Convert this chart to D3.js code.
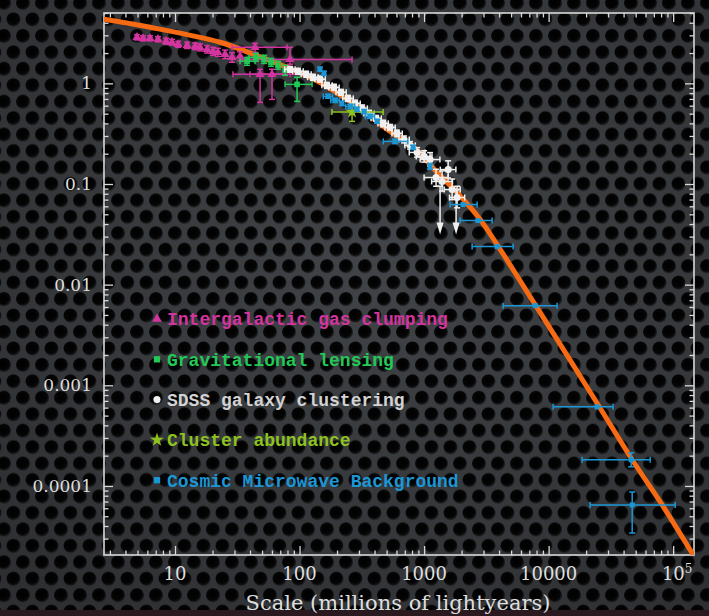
<!DOCTYPE html>
<html>
<head>
<meta charset="utf-8">
<script src="https://cdn.jsdelivr.net/npm/d3@7/dist/d3.min.js"></script>
<style>
  html, body { margin: 0; padding: 0; background: #1e2023; }
  svg { display: block; }
</style>
</head>
<body>
<svg id="chart" width="709" height="616"></svg>
<script>
// ---- axis ticks ----
const xTickValues = [10, 100, 1000, 10000, 100000];
const xTickLabels = ["10", "100", "1000", "10000", "10^5"];
const yTickValues = [1, 0.1, 0.01, 0.001, 0.0001];
const yTickLabels = ["1", "0.1", "0.01", "0.001", "0.0001"];
const xTitle = "Scale (millions of lightyears)";

// ---- model curve (scale, amplitude) ----
const curveX = [2.69, 6.30, 22.96, 42.4, 79.4, 146, 290, 533, 817, 1271, 1841, 2818, 3855, 7798, 22750, 46880, 81660, 144900];
const curveY = [4.34, 3.61, 2.56, 1.95, 1.44, 1.02, 0.590, 0.333, 0.236, 0.130, 0.0822, 0.0444, 0.0250, 0.00632, 0.000769, 0.000182, 6.47e-5, 2.06e-5];

// ---- measurements: [x, y, xlo, xhi, ylo, yhi] ----
const gasClumping = [
  [4.95, 2.87, null, null, 2.70, 3.05],
  [5.53, 2.80, null, null, 2.64, 2.97],
  [6.30, 2.80, null, null, 2.64, 2.97],
  [7.30, 2.74, null, null, 2.58, 2.91],
  [8.47, 2.62, null, null, 2.45, 2.80],
  [9.46, 2.56, null, null, 2.40, 2.74],
  [10.6, 2.44, null, null, 2.28, 2.62],
  [12.5, 2.39, null, null, 2.22, 2.56],
  [14.5, 2.33, null, null, 2.16, 2.52],
  [15.9, 2.28, null, null, 2.10, 2.46],
  [18.1, 2.18, null, null, 2.00, 2.37],
  [20.2, 2.08, null, null, 1.90, 2.28],
  [22.1, 2.03, null, null, 1.85, 2.23],
  [25.2, 1.94, null, null, 1.76, 2.14],
  [28.7, 1.81, null, null, 1.62, 2.02],
  [33.3, 1.86, null, null, 1.68, 2.06],
  [43.9, 2.28, 28.7, 79.4, 2.03, 2.50],
  [83.9, 1.73, 33.3, 264, 1.55, 2.28],
  [48.2, 1.23, 29.2, 83.9, 0.647, 1.38],
  [60.1, 1.23, 40.0, 115, 0.693, 1.38]
];

const lensing = [
  [37.9, 1.66, 33.3, 43.9, 1.51, 1.81],
  [44.7, 1.81, 39.3, 50.9, 1.66, 1.99],
  [51.9, 1.73, null, null, 1.58, 1.90],
  [59.0, 1.62, null, null, 1.48, 1.77],
  [67.2, 1.51, null, null, 1.38, 1.66],
  [76.5, 1.35, null, null, 1.20, 1.51],
  [95.5, 0.977, 76.5, 126, 0.662, 1.15]
];

const sdss = [
  [84, 1.38, 76, 92, 1.29, 1.47],
  [97, 1.32, 88, 107, 1.23, 1.41],
  [113, 1.23, 103, 124, 1.15, 1.32],
  [128, 1.15, 116, 141, 1.07, 1.23],
  [146, 1.10, 133, 161, 1.03, 1.18],
  [166, 0.955, 151, 183, 0.89, 1.02],
  [189, 0.912, 172, 208, 0.85, 0.98],
  [215, 0.814, 196, 237, 0.76, 0.87],
  [245, 0.709, 222, 270, 0.66, 0.76],
  [279, 0.632, 254, 307, 0.59, 0.68],
  [318, 0.564, 289, 350, 0.52, 0.61],
  [362, 0.502, 329, 398, 0.47, 0.54],
  [412, 0.449, 375, 453, 0.42, 0.48],
  [469, 0.400, 426, 516, 0.37, 0.43],
  [533, 0.365, 485, 586, 0.34, 0.39],
  [607, 0.318, 552, 668, 0.295, 0.343],
  [691, 0.277, 628, 760, 0.256, 0.30],
  [772, 0.242, 700, 850, 0.222, 0.264],
  [879, 0.206, 760, 1017, 0.185, 0.23],
  [1000, 0.188, 865, 1157, 0.165, 0.214],
  [1117, 0.175, 930, 1340, 0.15, 0.205],
  [1248, 0.116, 1000, 1560, 0.095, 0.14],
  [1395, 0.106, 1150, 1690, 0.085, 0.135],
  [1560, 0.139, 1350, 1800, 0.115, 0.17],
  [1679, 0.0881, 1450, 1950, 0.07, 0.112],
  [1841, 0.0734, 1600, 2120, 0.058, 0.095]
];
// upper limits: [x, top, arrow tip]
const sdssLimits = [
  [1344, 0.095, 0.0315],
  [1807, 0.088, 0.0315]
];

const clusters = [
  [264, 0.52, 182, 469, 0.419, 0.618]
];

const cmb = [
  [146, 1.38, null, null, 1.32, 1.45],
  [157, 1.26, null, null, 1.20, 1.32],
  [169, 0.742, 155, 184, 0.71, 0.78],
  [193, 0.677, 178, 210, 0.645, 0.71],
  [219, 0.632, null, null, 0.60, 0.665],
  [255, 0.590, 235, 277, 0.56, 0.62],
  [290, 0.551, null, null, 0.525, 0.58],
  [330, 0.526, null, null, 0.50, 0.55],
  [368, 0.470, 338, 400, 0.447, 0.494],
  [419, 0.419, null, null, 0.40, 0.44],
  [585, 0.265, 470, 740, 0.252, 0.279],
  [817, 0.231, null, null, 0.22, 0.243],
  [1117, 0.149, null, null, 0.14, 0.16],
  [2056, 0.0625, 1618, 2666, null, null],
  [2716, 0.0433, 1945, 3516, null, null],
  [3855, 0.0239, 2431, 5188, null, null],
  [7798, 0.00618, 4313, 11700, null, null],
  [24500, 0.000611, 10870, 32960, null, null],
  [46000, 0.000182, 18580, 65370, 0.000155, 0.000213],
  [46880, 6.47e-5, 21530, 103800, 3.41e-5, 8.71e-5]
];

// ---- legend ----
const legendLabels = ["Intergalactic gas clumping", "Gravitational lensing", "SDSS galaxy clustering", "Cluster abundance", "Cosmic Microwave Background"];

// ---------------------------------------------------------------
const W = 709, H = 616;
const M = { left: 104, right: 694, top: 13, bottom: 555 };

const colors = {
  gas: "#d4349f",
  lens: "#22c957",
  sdss: "#f0f0f0",
  sdssText: "#d2d2d2",
  clus: "#8dc21f",
  cmb: "#1c97d6",
  curve: "#f56a12",
  axis: "#d9d9d9",
  text: "#dedede"
};

const svg = d3.select("#chart");
const defs = svg.append("defs");

// perforated-metal backdrop
const pat = defs.append("pattern")
  .attr("id", "holes").attr("patternUnits", "userSpaceOnUse")
  .attr("width", 19).attr("height", 32.9).attr("x", 4).attr("y", 3);
pat.append("rect").attr("width", 19).attr("height", 32.9).attr("fill", "#45484c");
const hg = defs.append("radialGradient").attr("id", "holeGrad")
  .attr("cx", "45%").attr("cy", "42%").attr("r", "55%");
hg.append("stop").attr("offset", "0%").attr("stop-color", "#000");
hg.append("stop").attr("offset", "75%").attr("stop-color", "#060606");
hg.append("stop").attr("offset", "100%").attr("stop-color", "#222427");
[[0, 0], [19, 0], [0, 32.9], [19, 32.9], [9.5, 16.45]].forEach(([cx, cy]) => {
  pat.append("circle").attr("cx", cx).attr("cy", cy).attr("r", 7).attr("fill", "url(#holeGrad)");
});
const vg = defs.append("radialGradient").attr("id", "vignette")
  .attr("cx", "55%").attr("cy", "40%").attr("r", "75%");
vg.append("stop").attr("offset", "0%").attr("stop-color", "#000").attr("stop-opacity", 0.05);
vg.append("stop").attr("offset", "100%").attr("stop-color", "#000").attr("stop-opacity", 0.35);

svg.append("rect").attr("width", W).attr("height", H).attr("fill", "url(#holes)");
svg.append("rect").attr("width", W).attr("height", H).attr("fill", "url(#vignette)");
svg.append("rect").attr("x", 0).attr("y", 610).attr("width", W).attr("height", 6).attr("fill", "#2a1a20");

defs.append("clipPath").attr("id", "plotClip").append("rect")
  .attr("x", M.left).attr("y", M.top)
  .attr("width", M.right - M.left).attr("height", M.bottom - M.top);

// ---- scales ----
const x = d3.scaleLog().domain([2.69, 1.47e5]).range([M.left, M.right]);
const y = d3.scaleLog().domain([2.06e-5, 5.0]).range([M.bottom, M.top]);

const xMinor = x.ticks().filter(v => !xTickValues.includes(v));
const yMinor = y.ticks().filter(v => !yTickValues.some(t => Math.abs(t - v) / t < 1e-6));

function styleAxis(g) {
  g.select(".domain").remove();
  g.selectAll("line").attr("stroke", colors.axis).attr("stroke-width", 1.3);
  g.selectAll("text").remove();
}

// frame
svg.append("rect")
  .attr("x", M.left).attr("y", M.top)
  .attr("width", M.right - M.left).attr("height", M.bottom - M.top)
  .attr("fill", "none").attr("stroke", colors.axis).attr("stroke-width", 1.6);

// inward ticks on all four sides
const axes = svg.append("g");
[
  [d3.axisBottom(x), `translate(0,${M.bottom})`, xTickValues, xMinor],
  [d3.axisTop(x), `translate(0,${M.top})`, xTickValues, xMinor],
  [d3.axisLeft(y), `translate(${M.left},0)`, yTickValues, yMinor],
  [d3.axisRight(y), `translate(${M.right},0)`, yTickValues, yMinor]
].forEach(([ax, tr, major, minor]) => {
  axes.append("g").attr("transform", tr)
    .call(ax.tickValues(major).tickSize(-9)).call(styleAxis);
  axes.append("g").attr("transform", tr)
    .call(ax.tickValues(minor).tickSize(-4.5)).call(styleAxis);
});

// tick labels
const labelFont = "'DejaVu Serif', serif";
const xl = svg.append("g").attr("font-family", labelFont).attr("font-size", 18)
  .attr("fill", colors.text).attr("text-anchor", "middle");
xTickValues.forEach((v, i) => {
  const parts = xTickLabels[i].split("^");
  const t = xl.append("text").attr("x", x(v) + (parts.length > 1 ? 4 : 0)).attr("y", 580);
  t.append("tspan").text(parts[0]);
  if (parts.length > 1) {
    t.append("tspan").attr("font-size", 12).attr("dy", -7).text(parts[1]);
  }
});
const yl = svg.append("g").attr("font-family", labelFont).attr("font-size", 17)
  .attr("fill", colors.text).attr("text-anchor", "end");
yTickValues.forEach((v, i) => {
  yl.append("text").attr("x", 92).attr("y", y(v)).attr("dy", "0.36em").text(yTickLabels[i]);
});

svg.append("text")
  .attr("x", 398).attr("y", 610)
  .attr("font-family", labelFont).attr("font-size", 21)
  .attr("fill", colors.text).attr("text-anchor", "middle")
  .text(xTitle);

// ---- model curve ----
const plot = svg.append("g").attr("clip-path", "url(#plotClip)");
const curvePts = curveX.map((v, i) => [v, curveY[i]]);
plot.append("path")
  .datum(curvePts)
  .attr("fill", "none")
  .attr("stroke", colors.curve)
  .attr("stroke-width", 5)
  .attr("stroke-linecap", "round")
  .attr("d", d3.line().x(d => x(d[0])).y(d => y(d[1])).curve(d3.curveCatmullRom.alpha(0.5)));

// ---- error bars + markers ----
const cap = 3;
function drawSeries(data, color, symbolType, size, sw) {
  const g = plot.append("g").attr("stroke", color).attr("stroke-width", sw || 1.5);
  data.forEach(d => {
    const [vx, vy, xlo, xhi, ylo, yhi] = d;
    const px = x(vx), py = y(vy);
    if (xlo != null) {
      g.append("line").attr("x1", x(xlo)).attr("x2", x(xhi)).attr("y1", py).attr("y2", py);
      [xlo, xhi].forEach(e => g.append("line")
        .attr("x1", x(e)).attr("x2", x(e)).attr("y1", py - cap).attr("y2", py + cap));
    }
    if (ylo != null) {
      g.append("line").attr("x1", px).attr("x2", px).attr("y1", y(ylo)).attr("y2", y(yhi));
      [ylo, yhi].forEach(e => g.append("line")
        .attr("x1", px - cap).attr("x2", px + cap).attr("y1", y(e)).attr("y2", y(e)));
    }
  });
  plot.append("g").selectAll("path").data(data).join("path")
    .attr("transform", d => `translate(${x(d[0])},${y(d[1])})`)
    .attr("d", d3.symbol(symbolType, size))
    .attr("fill", color);
}

drawSeries(gasClumping, colors.gas, d3.symbolTriangle, 36);
drawSeries(lensing, colors.lens, d3.symbolSquare, 32);
drawSeries(sdss, colors.sdss, d3.symbolCircle, 40);

// SDSS upper limits drawn as arrows
const lim = plot.append("g").attr("stroke", colors.sdss).attr("fill", colors.sdss).attr("stroke-width", 1.5);
sdssLimits.forEach(([vx, top, tip]) => {
  const px = x(vx);
  lim.append("line").attr("x1", px).attr("x2", px).attr("y1", y(top)).attr("y2", y(tip) - 8);
  lim.append("line").attr("x1", px - cap).attr("x2", px + cap).attr("y1", y(top)).attr("y2", y(top));
  lim.append("path").attr("stroke", "none")
    .attr("d", `M${px - 3.5},${y(tip) - 12} L${px + 3.5},${y(tip) - 12} L${px},${y(tip)} Z`);
});

drawSeries(clusters, colors.clus, d3.symbolStar, 55);
drawSeries(cmb, colors.cmb, d3.symbolSquare, 25);

// ---- legend ----
const legendColors = [colors.gas, colors.lens, colors.sdssText, colors.clus, colors.cmb];
const legendSymbols = [d3.symbolTriangle, d3.symbolSquare, d3.symbolCircle, d3.symbolStar, d3.symbolSquare];
const leg = svg.append("g");
legendLabels.forEach((label, i) => {
  const ly = 319 + i * 40.3;
  leg.append("path")
    .attr("transform", `translate(157,${ly})`)
    .attr("d", d3.symbol(legendSymbols[i], i === 3 ? 60 : 40))
    .attr("fill", i === 2 ? colors.sdss : legendColors[i]);
  leg.append("text")
    .attr("x", 167).attr("y", ly).attr("dy", "0.35em")
    .attr("font-family", "'Liberation Mono', monospace")
    .attr("font-weight", "bold").attr("font-size", 18)
    .attr("fill", legendColors[i])
    .text(label);
});
</script>
</body>
</html>
